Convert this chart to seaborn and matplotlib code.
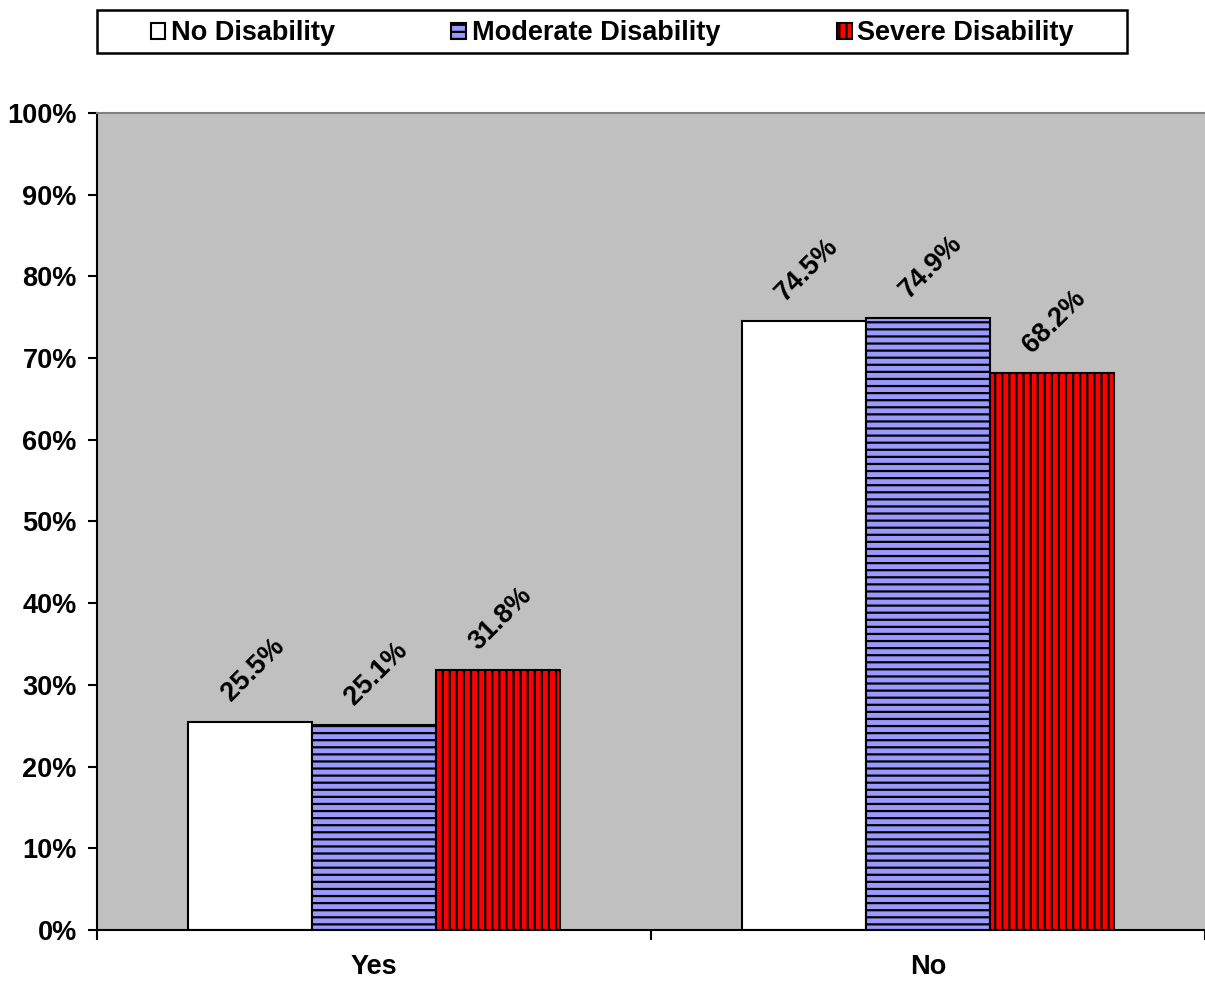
import matplotlib
matplotlib.use("Agg")
import matplotlib.pyplot as plt
import seaborn as sns
import pandas as pd
from matplotlib.patches import Patch, Rectangle

categories = ["Yes", "No"]
groups = ["No Disability", "Moderate Disability", "Severe Disability"]
no_dis = [25.5, 74.5]
mod_dis = [25.1, 74.9]
sev_dis = [31.8, 68.2]

colors = ["#FFFFFF", "#9999FF", "#FF0000"]
hatches = [None, "--", "||"]

rows = []
for g, vals in zip(groups, [no_dis, mod_dis, sev_dis]):
    for c, v in zip(categories, vals):
        rows.append({"answer": c, "group": g, "pct": v})
df = pd.DataFrame(rows)

# dpi 85 gives a tighter hatch pitch; k keeps sizes as at 100 dpi
DPI = 85
k = 100 / DPI

sns.set_style("white")
plt.rcParams["font.family"] = ["Liberation Sans", "DejaVu Sans"]
plt.rcParams["font.weight"] = "bold"
plt.rcParams["text.color"] = "black"
plt.rcParams["xtick.color"] = "black"
plt.rcParams["ytick.color"] = "black"
plt.rcParams["hatch.linewidth"] = 1.6 * k

fs = 19.5 * k

fig = plt.figure(figsize=(1205 / DPI, 981 / DPI), dpi=DPI)
ax = fig.add_axes([0.0805, 0.052, 0.9195, 0.8328])
ax.set_facecolor("#C0C0C0")

sns.barplot(data=df, x="answer", y="pct", hue="group", order=categories,
            hue_order=groups, palette=colors, saturation=1, width=0.67, gap=0,
            edgecolor="black", linewidth=1.5 * k, ax=ax, legend=False)

# hatching + rotated value labels
for cont, h in zip(ax.containers, hatches):
    for bar, v in zip(cont, cont.datavalues):
        if h:
            bar.set_hatch(h)
        bar.set_edgecolor("black")
        ax.annotate(f"{v:.1f}%", (bar.get_x() + bar.get_width() / 2, v),
                    xytext=(2 * k, 37 * k), textcoords="offset points", rotation=45,
                    ha="center", va="center", fontsize=fs, fontweight="bold")

ax.set_xlim(-0.5, 1.5)
ax.set_ylim(0, 100)
ax.set_yticks(range(0, 101, 10))
ax.set_yticklabels([f"{v}%" for v in range(0, 101, 10)], fontsize=fs, fontweight="bold")
ax.set_xticks([0, 1])
ax.set_xticklabels(categories, fontsize=fs, fontweight="bold")
ax.set_xticks([-0.5, 0.5, 1.5], minor=True)
ax.tick_params(axis="x", which="major", length=0, pad=17 * k)
ax.tick_params(axis="x", which="minor", length=7 * k, width=1.5 * k, direction="out", bottom=True)
ax.tick_params(axis="y", length=6.5 * k, width=1.5 * k, direction="out", left=True, pad=8 * k)
ax.set_xlabel("")
ax.set_ylabel("")

for s in ["left", "bottom"]:
    ax.spines[s].set_color("black")
    ax.spines[s].set_linewidth(1.5 * k)
ax.spines["top"].set_color("#808080")
ax.spines["top"].set_linewidth(1.5 * k)
ax.spines["right"].set_visible(False)

# legend box drawn separately, legend itself centered inside
fig.patches.append(Rectangle((0.0805, 0.946), 0.855, 0.044, transform=fig.transFigure,
                             facecolor="white", edgecolor="black", linewidth=1.8 * k))
handles = [Patch(facecolor=c, edgecolor="black", hatch=h, linewidth=1.5 * k) for c, h in zip(colors, hatches)]
leg = fig.legend(handles, groups, loc="center", ncol=3, bbox_to_anchor=(0.508, 0.966),
                 frameon=False, fontsize=fs, handlelength=0.55, handleheight=0.55,
                 handletextpad=0.2, columnspacing=4.3, borderaxespad=0)
for t in leg.get_texts():
    t.set_fontweight("bold")

fig.savefig("out.png", dpi=DPI)
